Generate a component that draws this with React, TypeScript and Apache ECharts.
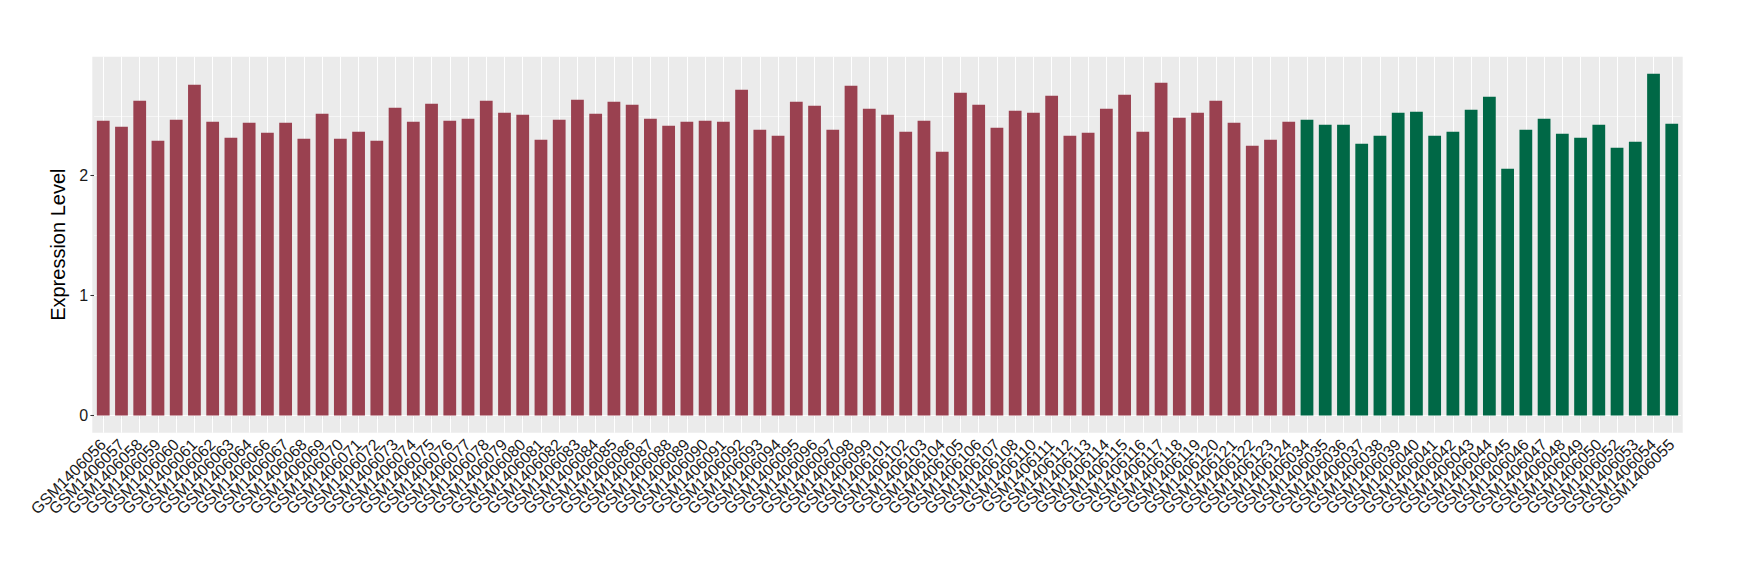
import React, { useEffect, useRef } from "react";
import * as echarts from "echarts";

const redSamples = [
  "GSM1406056", "GSM1406057", "GSM1406058", "GSM1406059", "GSM1406060", "GSM1406061",
  "GSM1406062", "GSM1406063", "GSM1406064", "GSM1406066", "GSM1406067", "GSM1406068",
  "GSM1406069", "GSM1406070", "GSM1406071", "GSM1406072", "GSM1406073", "GSM1406074",
  "GSM1406075", "GSM1406076", "GSM1406077", "GSM1406078", "GSM1406079", "GSM1406080",
  "GSM1406081", "GSM1406082", "GSM1406083", "GSM1406084", "GSM1406085", "GSM1406086",
  "GSM1406087", "GSM1406088", "GSM1406089", "GSM1406090", "GSM1406091", "GSM1406092",
  "GSM1406093", "GSM1406094", "GSM1406095", "GSM1406096", "GSM1406097", "GSM1406098",
  "GSM1406099", "GSM1406101", "GSM1406102", "GSM1406103", "GSM1406104", "GSM1406105",
  "GSM1406106", "GSM1406107", "GSM1406108", "GSM1406110", "GSM1406111", "GSM1406112",
  "GSM1406113", "GSM1406114", "GSM1406115", "GSM1406116", "GSM1406117", "GSM1406118",
  "GSM1406119", "GSM1406120", "GSM1406121", "GSM1406122", "GSM1406123", "GSM1406124",
];
const redValues = [
  2.458, 2.408, 2.625, 2.292, 2.467, 2.758, 2.45, 2.317, 2.442, 2.358, 2.442, 2.308,
  2.517, 2.308, 2.367, 2.292, 2.567, 2.45, 2.6, 2.458, 2.475, 2.625, 2.525, 2.508,
  2.3, 2.467, 2.633, 2.517, 2.617, 2.592, 2.475, 2.417, 2.45, 2.458, 2.45, 2.717,
  2.383, 2.333, 2.617, 2.583, 2.383, 2.75, 2.558, 2.508, 2.367, 2.458, 2.2, 2.692,
  2.592, 2.4, 2.542, 2.525, 2.667, 2.333, 2.358, 2.558, 2.675, 2.367, 2.775, 2.483,
  2.525, 2.625, 2.442, 2.25, 2.3, 2.45,
];
const greenSamples = [
  "GSM1406034", "GSM1406035", "GSM1406036", "GSM1406037", "GSM1406038", "GSM1406039",
  "GSM1406040", "GSM1406041", "GSM1406042", "GSM1406043", "GSM1406044", "GSM1406045",
  "GSM1406046", "GSM1406047", "GSM1406048", "GSM1406049", "GSM1406050", "GSM1406052",
  "GSM1406053", "GSM1406054", "GSM1406055",
];
const greenValues = [
  2.467, 2.425, 2.425, 2.267, 2.333, 2.525, 2.533, 2.333, 2.367, 2.55, 2.658, 2.058,
  2.383, 2.475, 2.35, 2.317, 2.425, 2.233, 2.283, 2.85, 2.433,
];
const yTickValues = [0, 1, 2];
const yMinorValues = [0.5, 1.5, 2.5];
const yMin = -0.1425;
const yMax = 2.9925;

const RED = "#9A4150";
const GREEN = "#006846";

export default function App() {
  const ref = useRef<HTMLDivElement>(null);
  useEffect(() => {
    document.body.style.margin = "0";
    if (!ref.current) return;
    const chart = echarts.init(ref.current, null, { renderer: "svg" });
    const categories = [...redSamples, ...greenSamples];
    const barData = [
      ...redValues.map((v) => ({ value: v, itemStyle: { color: RED } })),
      ...greenValues.map((v) => ({ value: v, itemStyle: { color: GREEN } })),
    ];
    const panelLeft = 92.3;
    const panelRight = 1682.7;
    const panelTop = 56.7;
    const panelBottom = 432.7;
    const band = (panelRight - panelLeft) / (categories.length + 0.2);
    const gridLeft = panelLeft + 0.1 * band;
    const gridWidth = band * categories.length;
    const font = "'Liberation Sans', Arial, Helvetica, sans-serif";
    chart.setOption({
      animation: false,
      backgroundColor: "#FFFFFF",
      textStyle: { fontFamily: font },
      graphic: [
        {
          type: "rect",
          z: -10,
          silent: true,
          shape: { x: panelLeft, y: panelTop, width: panelRight - panelLeft, height: panelBottom - panelTop },
          style: { fill: "#EBEBEB" },
        },
      ],
      grid: {
        left: gridLeft,
        width: gridWidth,
        top: panelTop,
        height: panelBottom - panelTop,
        containLabel: false,
      },
      xAxis: {
        type: "category",
        data: categories,
        boundaryGap: true,
        axisLine: { show: false },
        axisTick: { show: true, alignWithLabel: true, interval: 0, length: 3.7, lineStyle: { color: "#333333", width: 1.07 } },
        axisLabel: {
          interval: 0,
          rotate: 45,
          margin: 9,
          padding: [26, 0, 0, 0],
          fontSize: 16,
          color: "#1A1A1A",
          fontFamily: font,
        },
        splitLine: { show: false },
      },
      yAxis: {
        type: "value",
        min: yMin,
        max: yMax,
        name: "Expression Level",
        nameLocation: "middle",
        nameGap: 14,
        nameRotate: 90,
        nameTextStyle: { fontSize: 20, color: "#000000", fontFamily: font },
        axisLine: { show: false },
        axisTick: { show: true, length: 3.7, customValues: yTickValues, lineStyle: { color: "#333333", width: 1.07 } },
        axisLabel: { customValues: yTickValues, fontSize: 16, color: "#1A1A1A", margin: 6, fontFamily: font },
        splitLine: { show: false },
      },
      series: [
        {
          type: "line",
          data: [],
          z: 1,
          silent: true,
          markLine: {
            z: 1,
            silent: true,
            symbol: ["none", "none"],
            label: { show: false },
            animation: false,
            data: [
              ...yMinorValues.map((v) => ({ yAxis: v, lineStyle: { color: "#FFFFFF", width: 0.55, type: "solid" } })),
              ...yTickValues.map((v) => ({ yAxis: v, lineStyle: { color: "#FFFFFF", width: 1.07, type: "solid" } })),
              ...categories.map((c) => ({ xAxis: c, lineStyle: { color: "#FFFFFF", width: 1.07, type: "solid" } })),
            ],
          },
        },
        {
          type: "bar",
          z: 3,
          data: barData,
          barWidth: "70%",
        },
      ],
    });
    return () => chart.dispose();
  }, []);
  return <div ref={ref} style={{ width: 1740, height: 580 }} />;
}
